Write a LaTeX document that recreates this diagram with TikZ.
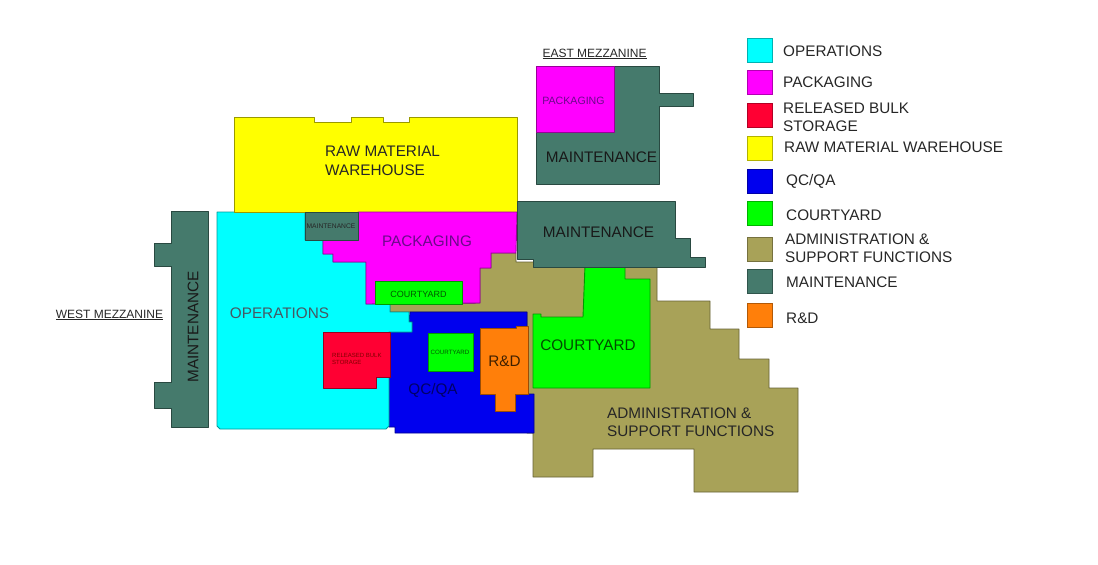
\documentclass[tikz,border=0pt]{standalone}
\usepackage{fontspec}
\setmainfont{Liberation Sans}
\definecolor{opscolor}{HTML}{00FFFF}
\definecolor{packcolor}{HTML}{FF00FF}
\definecolor{bulkcolor}{HTML}{FF0033}
\definecolor{rawcolor}{HTML}{FFFF00}
\definecolor{qccolor}{HTML}{0000EE}
\definecolor{yardcolor}{HTML}{00FF00}
\definecolor{admincolor}{HTML}{A8A258}
\definecolor{maintcolor}{HTML}{457A6C}
\definecolor{rdcolor}{HTML}{FF7F0A}
\definecolor{packtext}{HTML}{6A0A8A}
\tikzset{
  region/.style={draw=#1!60!black, fill=#1, line width=0.9pt, line join=round},
  swatch/.style={draw=#1!70!black, fill=#1, line width=0.9pt, inner sep=0pt, minimum width=25pt, minimum height=24pt},
  legendtext/.style={anchor=west, align=left, inner sep=0pt, text=black!85, font=\fontsize{15.3}{18.5}\selectfont},
  biglabel/.style={inner sep=0pt, align=left, font=\fontsize{15.3}{18.5}\selectfont}
}

\begin{document}
\begin{tikzpicture}[x=1pt, y=-1pt]
      \useasboundingbox (0,0) rectangle (1098,565);

      \draw[region=admincolor] (390,304) -- (480,303) -- (480,268) -- (491,268) -- (491,253) -- (516,253) -- (516,262) -- (657,262) -- (657,301) -- (710,301) -- (710,329) -- (739,329) -- (739,359) -- (769,359) -- (769,388) -- (798,388) -- (798,492) -- (694,492) -- (694,449) -- (593,449) -- (593,477) -- (533,477) -- (533,433) -- (527,433) -- (527,312) -- (390,312) -- cycle;
      \draw[region=qccolor] (410,312) -- (527,312) -- (527,394) -- (534,394) -- (534,433) -- (395,433) -- (395,427) -- (389,427) -- (389,332) -- (412,332) -- (412,322) -- (409,322) -- cycle;
      \draw[region=opscolor] (217,212) -- (305,212) -- (305,240) -- (323,240) -- (323,254) -- (333,254) -- (333,262) -- (366,262) -- (366,304) -- (390,304) -- (390,312) -- (409,312) -- (409,322) -- (412,322) -- (412,332) -- (389,332) -- (389,426) -- (386,429) -- (220,429) -- (217,426) -- cycle;
      \draw[region=rawcolor] (234,117) -- (314,117) -- (314,122) -- (351,122) -- (351,117) -- (383,117) -- (383,122) -- (409,122) -- (409,117) -- (517,117) -- (517,212) -- (234,212) -- cycle;
      \draw[region=packcolor] (358,212) -- (517,212) -- (516,253) -- (491,253) -- (491,268) -- (480,268) -- (480,303) -- (366,304) -- (366,262) -- (333,262) -- (333,254) -- (323,254) -- (323,240) -- (358,240) -- cycle;
      \draw[region=maintcolor] (305,212) rectangle (358,240);
      \draw[region=bulkcolor] (323,332) -- (390,332) -- (390,377) -- (376,377) -- (376,388) -- (323,388) -- cycle;
      \draw[region=yardcolor] (375,281) rectangle (462,304);
      \draw[region=yardcolor] (428,333) rectangle (473,371);
      \draw[region=rdcolor] (480,328) -- (516,328) -- (516,326) -- (528,326) -- (528,394) -- (515,394) -- (515,411) -- (495,411) -- (495,394) -- (480,394) -- cycle;
      \draw[region=yardcolor] (533,314) -- (541,314) -- (541,317) -- (583,317) -- (585,265) -- (625,265) -- (625,279) -- (650,279) -- (650,388) -- (533,388) -- cycle;
      \draw[region=maintcolor] (517,201) -- (675,201) -- (675,238) -- (690,238) -- (690,257) -- (705,257) -- (705,267) -- (533,267) -- (533,259) -- (517,259) -- cycle;
      \draw[region=maintcolor] (536,66) -- (659,66) -- (659,93) -- (693,93) -- (693,106) -- (659,106) -- (659,184) -- (536,184) -- cycle;
      \draw[region=packcolor] (536,66) rectangle (614,132);
      \draw[region=maintcolor] (171,211) -- (208,211) -- (208,427) -- (171,427) -- (171,408) -- (154,408) -- (154,382) -- (171,382) -- (171,266) -- (154,266) -- (154,243) -- (171,243) -- cycle;

      \node[biglabel, anchor=west, text=black!85] (rawlabel) at (325,161) {RAW MATERIAL\\WAREHOUSE};
      \node[biglabel, text=black!70!cyan] (opslabel) at (279.5,313) {OPERATIONS};
      \node[biglabel, text=packtext] (packlabel) at (427,241) {PACKAGING};
      \node[biglabel, text=black!60!blue] (qclabel) at (433,390) {QC/QA};
      \node[biglabel, text=black!75!orange] (rdlabel) at (504.5,361) {R\&D};
      \node[biglabel, text=black!70!green] (yardlabel) at (588,345) {COURTYARD};
      \node[biglabel, anchor=west, text=black!85] (adminlabel) at (607,422) {ADMINISTRATION \&\\SUPPORT FUNCTIONS};
      \node[biglabel, text=black!90] (maintmid) at (598.5,232) {MAINTENANCE};
      \node[biglabel, text=black!90] (mainteast) at (601.5,157) {MAINTENANCE};
      \node[biglabel, text=black!90, rotate=90] (maintwest) at (193,327) {MAINTENANCE};
      \node[inner sep=0pt, text=black!65!green, font=\fontsize{9}{11}\selectfont] (yardpack) at (418.5,294) {COURTYARD};
      \node[inner sep=0pt, text=black!65!green, font=\fontsize{6.2}{8}\selectfont] (yardqc) at (450,352) {COURTYARD};
      \node[inner sep=0pt, text=black!85, font=\fontsize{6.7}{8}\selectfont] (maintsmall) at (331,226) {MAINTENANCE};
      \node[inner sep=0pt, anchor=west, align=left, text=black!50!red, font=\fontsize{6}{7}\selectfont] (bulklabel) at (332,358.5) {RELEASED BULK\\STORAGE};
      \node[inner sep=0pt, text=packtext, font=\fontsize{10.6}{12}\selectfont] (packeast) at (573.5,101) {PACKAGING};
      \node[inner sep=0pt, text=black!85, font=\fontsize{12}{14}\selectfont] (eastlabel) at (594.5,54) {\underline{EAST MEZZANINE}};
      \node[inner sep=0pt, text=black!85, font=\fontsize{12}{14}\selectfont] (westlabel) at (109.5,315) {\underline{WEST MEZZANINE}};

      \node[swatch=opscolor] (opsbox) at (759.5,50) {};
      \node[swatch=packcolor] (packbox) at (759.5,82) {};
      \node[swatch=bulkcolor] (bulkbox) at (759.5,115) {};
      \node[swatch=rawcolor] (rawbox) at (759.5,148) {};
      \node[swatch=qccolor] (qcbox) at (759.5,181) {};
      \node[swatch=yardcolor] (yardbox) at (759.5,213.5) {};
      \node[swatch=admincolor] (adminbox) at (759.5,249) {};
      \node[swatch=maintcolor] (maintbox) at (759.5,281.5) {};
      \node[swatch=rdcolor] (rdbox) at (759.5,315) {};

      \node[legendtext] (opstext) at (783,51) {OPERATIONS};
      \node[legendtext] (packtext) at (783,82) {PACKAGING};
      \node[legendtext] (bulktext) at (783,117) {RELEASED BULK\\STORAGE};
      \node[legendtext] (rawtext) at (784,147) {RAW MATERIAL WAREHOUSE};
      \node[legendtext] (qctext) at (786,181) {QC/QA};
      \node[legendtext] (yardtext) at (786,215) {COURTYARD};
      \node[legendtext] (admintext) at (785,248) {ADMINISTRATION \&\\SUPPORT FUNCTIONS};
      \node[legendtext] (mainttext) at (786,282) {MAINTENANCE};
      \node[legendtext] (rdtext) at (786,318) {R\&D};
    \end{tikzpicture}
\end{document}
